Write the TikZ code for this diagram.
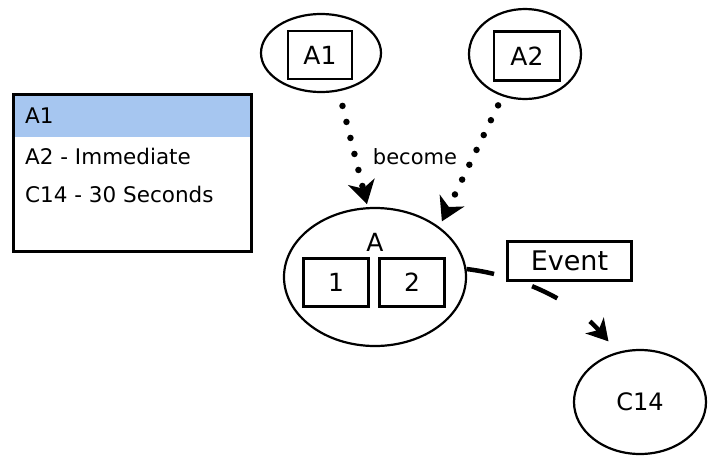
\documentclass[tikz,border=0pt]{standalone}
\usepackage{fontspec}
\setmainfont{DejaVu Sans}
\usetikzlibrary{arrows, arrows.meta, shapes.geometric}
\definecolor{rowblue}{RGB}{166,198,240}

\begin{document}
\begin{tikzpicture}[x=1pt,y=-1pt,>=stealth',
  state node/.style={ellipse,draw,line width=2.2pt,inner sep=0pt,font=\fontsize{23}{26}\selectfont},
  slot node/.style={rectangle,draw,fill=white,line width=2.6pt,inner sep=0pt,font=\fontsize{25}{28}\selectfont},
  list text/.style={anchor=west,inner sep=0pt,font=\fontsize{21.5}{24}\selectfont},
  become edge/.style={-{Stealth[length=23pt,width=27pt,inset=7pt]},line width=6.5pt,line cap=round,dash pattern=on 0pt off 16.5pt},
  event edge/.style={-{Stealth[length=21pt,width=24pt,inset=6pt]},line width=4.5pt,dash pattern=on 28pt off 40pt}]
  \useasboundingbox (0,0) rectangle (713,467);
  % list of states
  \fill[rowblue] (14,95) rectangle (251,137);
  \node[draw,line width=3pt,minimum width=238pt,minimum height=157pt] (list) at (132.5,173) {};
  \node[list text] (row1) at (25,116) {A1};
  \node[list text] (row2) at (25,156) {A2 - Immediate};
  \node[list text] (row3) at (25,194) {C14 - 30 Seconds};
  % states
  \node[state node,minimum width=120pt,minimum height=78pt] (A1) at (321,53) {};
  \node[slot node,minimum width=64pt,minimum height=48pt] (A1box) at (320,55) {A1};
  \node[state node,minimum width=112pt,minimum height=90pt] (A2) at (525,54) {};
  \node[slot node,minimum width=66pt,minimum height=49pt] (A2box) at (527,56) {A2};
  \node[state node,minimum width=182pt,minimum height=138pt] (A) at (375,277) {};
  \node[font=\fontsize{25}{28}\selectfont,inner sep=0pt] (Alabel) at (375,242) {A};
  \node[slot node,minimum width=65pt,minimum height=48pt] (one) at (336,282.5) {1};
  \node[slot node,minimum width=65pt,minimum height=48pt] (two) at (412,282.5) {2};
  \node[state node,minimum width=132pt,minimum height=104pt,font=\fontsize{24}{28}\selectfont] (C14) at (640,402) {C14};
  % transitions
  \draw[become edge,shorten <=15pt,shorten >=3pt] (A1.-65) -- (A.96);
  \draw[become edge,shorten <=10pt,shorten >=6pt] (A2.-118) -- (A.38);
  \node[font=\fontsize{21}{24}\selectfont,inner sep=0pt] (become) at (415,157) {become};
  \draw[event edge,shorten >=14pt] (A.5) .. controls (524,276) and (575,303) .. (C14.114);
  \node[slot node,minimum width=124pt,minimum height=39pt,font=\fontsize{27}{30}\selectfont] (event) at (569.5,261) {Event};
\end{tikzpicture}
\end{document}
